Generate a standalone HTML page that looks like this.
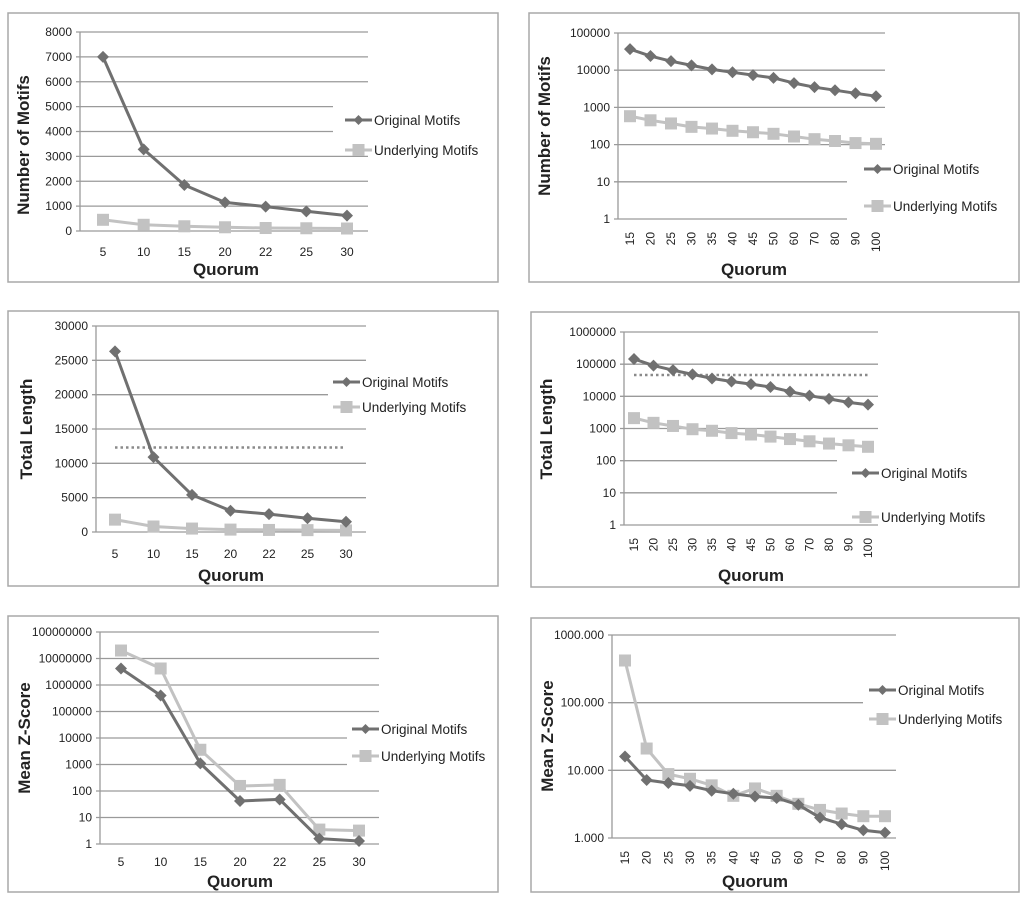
<!DOCTYPE html>
<html><head><meta charset="utf-8"><style>
html,body{margin:0;padding:0;background:#fff;}
svg{display:block;font-family:"Liberation Sans",Arial,sans-serif;}
</style></head><body>
<svg id="fig" width="1024" height="903" viewBox="0 0 1024 903" xmlns="http://www.w3.org/2000/svg"></svg>
<script>
const catsA = ["5","10","15","20","22","25","30"];
const catsB = ["15","20","25","30","35","40","45","50","60","70","80","90","100"];
const p1Orig = [7000,3280,1850,1150,980,790,620];
const p1Under = [450,250,190,150,120,110,100];
const p1Ticks = [0,1000,2000,3000,4000,5000,6000,7000,8000];
const p2Orig = [37000,24000,17500,13500,10500,8800,7400,6200,4500,3500,2900,2400,2000];
const p2Under = [580,450,370,300,270,235,215,195,165,140,125,110,105];
const p2Ticks = [1,10,100,1000,10000,100000];
const p3Orig = [26300,10900,5400,3100,2600,2000,1500];
const p3Under = [1800,800,500,350,300,270,230];
const p3Ticks = [0,5000,10000,15000,20000,25000,30000];
const p3Ref = [12300];
const p4Orig = [145000,90000,65000,48000,36000,29000,24000,19500,14000,10500,8300,6500,5500];
const p4Under = [2100,1500,1200,950,850,720,650,560,470,400,340,300,270];
const p4Ticks = [1,10,100,1000,10000,100000,1000000];
const p4Ref = [46000];
const p5Orig = [4200000,400000,1100,42,48,1.6,1.3];
const p5Under = [20000000,4200000,3600,155,170,3.5,3.2];
const p5Ticks = [1,10,100,1000,10000,100000,1000000,10000000,100000000];
const p6Orig = [16,7.2,6.5,5.9,5.0,4.5,4.1,3.9,3.1,2.0,1.6,1.3,1.2];
const p6Under = [420,21,8.8,7.5,6.0,4.2,5.4,4.2,3.2,2.6,2.3,2.1,2.1];
const p6Ticks = [1,10,100,1000];
const p6TickLabels = ["1.000","10.000","100.000","1000.000"];

const NS="http://www.w3.org/2000/svg";
const svg=document.getElementById('fig');
function mk(tag,attrs,parent,text){const e=document.createElementNS(NS,tag);for(const k in attrs)e.setAttribute(k,attrs[k]);if(text!==undefined)e.textContent=text;(parent||svg).appendChild(e);return e;}
const ORIG="#707070", UNDER="#c2c2c2";

function chart(c){
  const g=mk('g',{});
  
  
  const fr=mk('rect',{x:c.box[0],y:c.box[1],width:c.box[2]-c.box[0],height:c.box[3]-c.box[1],fill:'#fff',stroke:'#a8a8a8','stroke-width':1.5},g);
  
  
  const lo=c.log?Math.log10(c.ticks[0]):c.ticks[0], hi=c.log?Math.log10(c.ticks[c.ticks.length-1]):c.ticks[c.ticks.length-1];
  const ys=v=>{const t=c.log?Math.log10(v):v;return c.bottom-(t-lo)/(hi-lo)*(c.bottom-c.top);};
  const n=c.cats.length;
  const xs=i=>c.x0+i*(c.x1-c.x0)/(n-1);
  c.ticks.forEach((t,i)=>{
    const y=ys(t);
    const r=(c.short&&c.short.includes(i))?c.shortRight:c.right;
    const gl=mk('line',{x1:c.axis-4,y1:y,x2:r,y2:y,stroke:'#9a9a9a','stroke-width':1.3},g);
    
    
    const lab=c.tickLabels?c.tickLabels[i]:String(t);
    const tl=mk('text',{x:c.axis-8,y:y+4,'text-anchor':'end','font-size':12,fill:'#222'},g,lab);
    
    
  });
  const ax=mk('line',{x1:c.axis,y1:c.top,x2:c.axis,y2:c.bottom,stroke:'#9a9a9a','stroke-width':1.3},g);
  
  
  c.cats.forEach((cat,i)=>{
    let t;
    if(c.rot){t=mk('text',{x:0,y:0,transform:`translate(${xs(i)+4},${c.xtickY}) rotate(-90)`,'text-anchor':'end','font-size':12,fill:'#222'},g,cat);}
    else t=mk('text',{x:xs(i),y:c.xtickY,'text-anchor':'middle','font-size':12,fill:'#222'},g,cat);
    
    
  });
  if(c.ref){
    const ry=ys(c.ref[0]);
    const rl=mk('line',{x1:xs(0),y1:ry,x2:xs(n-1),y2:ry,stroke:'#8a8a8a','stroke-width':2.5,'stroke-dasharray':'2.5,3'},g);
    
    
  }
  function series(vals,col,shape,nm){
    const pts=vals.map((v,i)=>xs(i).toFixed(1)+','+ys(v).toFixed(1)).join(' ');
    const pl=mk('polyline',{points:pts,fill:'none',stroke:col,'stroke-width':3,'stroke-linejoin':'round'},g);
    
    
    vals.forEach((v,i)=>{
      const x=xs(i),y=ys(v);let m;
      if(shape==='d')m=mk('polygon',{points:`${x},${y-6} ${x+6},${y} ${x},${y+6} ${x-6},${y}`,fill:col},g);
      else m=mk('rect',{x:x-6,y:y-6,width:12,height:12,fill:col},g);
      
      
    });
  }
  series(c.under,UNDER,'s','underlying-motifs');
  series(c.orig,ORIG,'d','original-motifs');
  // legend
  [[c.legY[0],ORIG,'d','Original Motifs'],[c.legY[1],UNDER,'s','Underlying Motifs']].forEach(([y,col,sh,lab])=>{
    const lg=mk('g',{},g);
    
    
    mk('line',{x1:c.legX,y1:y,x2:c.legX+27,y2:y,stroke:col,'stroke-width':3},lg);
    const mx=c.legX+13.5;
    if(sh==='d')mk('polygon',{points:`${mx},${y-5} ${mx+5},${y} ${mx},${y+5} ${mx-5},${y}`,fill:col},lg);
    else mk('rect',{x:mx-6,y:y-6,width:12,height:12,fill:col},lg);
    mk('text',{x:c.legX+29,y:y+5,'font-size':13.5,fill:'#222'},lg,lab);
  });
  const yt=mk('text',{x:0,y:0,transform:`translate(${c.ytX},${c.ytY}) rotate(-90)`,'text-anchor':'middle','font-size':17,'font-weight':'bold',fill:'#222'},g,c.ytitle);
  
  
  const xt=mk('text',{x:c.xtX,y:c.xtY,'text-anchor':'middle','font-size':17,'font-weight':'bold',fill:'#222'},g,'Quorum');
  
  
}

chart({name:'chart-motifs-linear',box:[8,13,498,282],axis:80,top:32,bottom:231,right:368,short:[4,5],shortRight:333,
  ticks:p1Ticks,cats:catsA,x0:103,x1:347,orig:p1Orig,under:p1Under,legX:345,legY:[120,150],xtickY:256,
  ytitle:'Number of Motifs',ytX:29,ytY:145,xtX:226,xtY:275});
chart({name:'chart-motifs-log',box:[529,13,1019,282],axis:618,top:33,bottom:219,right:885,short:[1,0],shortRight:847,log:true,
  ticks:p2Ticks,cats:catsB,x0:630,x1:876,orig:p2Orig,under:p2Under,legX:864,legY:[169,206],xtickY:232,rot:true,
  ytitle:'Number of Motifs',ytX:550,ytY:126,xtX:754,xtY:275});
chart({name:'chart-length-linear',box:[8,311,498,586],axis:96,top:326,bottom:532,right:366,short:[4],shortRight:328,
  ticks:p3Ticks,cats:catsA,x0:115,x1:346,orig:p3Orig,under:p3Under,ref:p3Ref,legX:333,legY:[382,407],xtickY:558,
  ytitle:'Total Length',ytX:32,ytY:429,xtX:231,xtY:581});
chart({name:'chart-length-log',box:[531,312,1019,587],axis:624,top:332,bottom:525,right:878,short:[1,2],shortRight:837,log:true,
  ticks:p4Ticks,cats:catsB,x0:634,x1:868,orig:p4Orig,under:p4Under,ref:p4Ref,legX:852,legY:[473,517],xtickY:538,rot:true,
  ytitle:'Total Length',ytX:552,ytY:429,xtX:751,xtY:581});
chart({name:'chart-zscore-linear-cats',box:[8,616,498,892],axis:100,top:632,bottom:844,right:379,short:[3,4],shortRight:347,log:true,
  ticks:p5Ticks,cats:catsA,x0:121,x1:359,orig:p5Orig,under:p5Under,legX:352,legY:[729,756],xtickY:866,
  ytitle:'Mean Z-Score',ytX:30,ytY:738,xtX:240,xtY:887});
chart({name:'chart-zscore-log',box:[531,618,1019,892],axis:612,top:635,bottom:838,right:896,short:[2],shortRight:863,log:true,
  ticks:p6Ticks,tickLabels:p6TickLabels,cats:catsB,x0:625,x1:885,orig:p6Orig,under:p6Under,legX:869,legY:[690,719],xtickY:851,rot:true,
  ytitle:'Mean Z-Score',ytX:553,ytY:736,xtX:755,xtY:887});
</script>
</body></html>
